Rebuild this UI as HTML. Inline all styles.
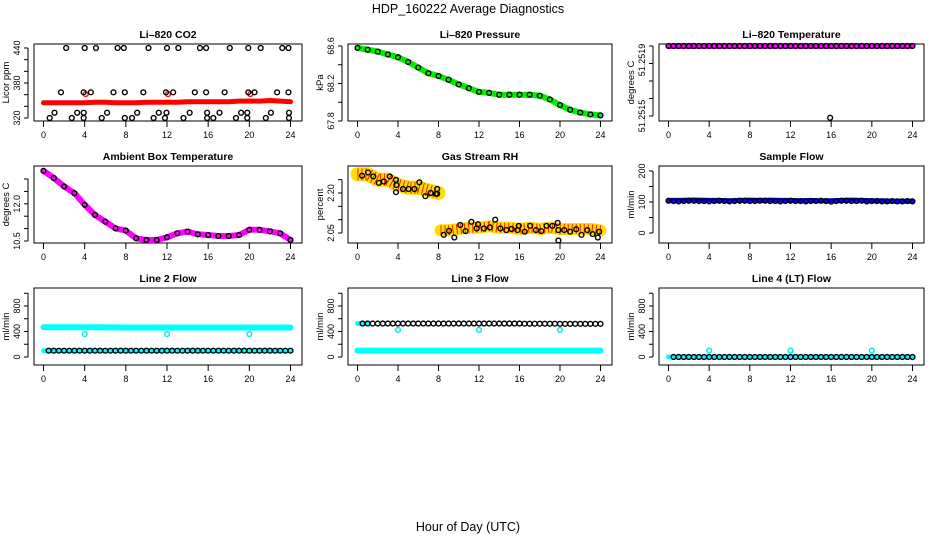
<!DOCTYPE html>
<html><head><meta charset="utf-8"><style>
html,body{margin:0;padding:0;background:#fff}
svg{display:block;font-family:"Liberation Sans",sans-serif}
</style></head><body>
<svg id="c" width="936" height="540" viewBox="0 0 936 540">
<text x="468" y="13" text-anchor="middle" font-size="12.5">HDP_160222  Average Diagnostics</text>
<text x="468" y="531" text-anchor="middle" font-size="12.5">Hour of Day (UTC)</text>
</svg>
<script>
const hrs=[0,1,2,3,4,5,6,7,8,9,10,11,12,13,14,15,16,17,18,19,20,21,22,23,24];
const halfHrs=[0,0.5,1,1.5,2,2.5,3,3.5,4,4.5,5,5.5,6,6.5,7,7.5,8,8.5,9,9.5,10,10.5,11,11.5,12,12.5,13,13.5,14,14.5,15,15.5,16,16.5,17,17.5,18,18.5,19,19.5,20,20.5,21,21.5,22,22.5,23,23.5,24];
const xTicks=[0,4,8,12,16,20,24];
// CO2
const co2Band=[346,346,346,346,346,347,347,346,346,346,347,347,347,347,348,348,348,348,348,349,349,349,350,349,348];
const co2Hours=[2.2,4.0,5.1,7.2,7.8,10.2,12.0,13.1,15.2,15.8,18.1,19.9,21.1,23.2,23.8,1.7,3.9,4.6,6.8,7.9,9.7,11.9,12.6,14.7,15.8,17.6,19.9,20.5,22.7,23.8,1.07,3.27,3.91,6.18,9.1,11.2,11.95,14.2,15.9,17.1,19.2,19.8,22.1,23.85,0.6,2.75,3.9,5.66,7.9,8.6,10.7,11.8,13.6,15.9,16.5,18.7,19.8,21.6,23.85];
const co2Vals=[440,440,440,440,440,440,440,440,440,440,440,440,440,440,440,364,364,364,364,364,364,364,364,364,364,364,364,364,364,364,329,329,329,329,329,329,329,329,329,329,329,329,329,329,320,320,320,320,320,320,320,320,320,320,320,320,320,320,320];
const co2OutHours=[4.1,12.1,20.1];
const co2OutVals=[361,361,361];
// Pressure
const presBand=[68.58,68.56,68.54,68.51,68.48,68.43,68.37,68.31,68.28,68.24,68.19,68.15,68.11,68.10,68.08,68.08,68.08,68.08,68.07,68.03,67.97,67.92,67.89,67.87,67.86];
// Temperature
const tempBand=[51.2519,51.2519,51.2519,51.2519,51.2519,51.2519,51.2519,51.2519,51.2519,51.2519,51.2519,51.2519,51.2519,51.2519,51.2519,51.2519,51.2519,51.2519,51.2519,51.2519,51.2519,51.2519,51.2519,51.2519,51.2519];
const tempOutHours=[15.9];
const tempOutVals=[51.25149];
// Ambient
const ambBand=[13.33,13.04,12.7,12.43,11.96,11.55,11.28,11.01,10.92,10.61,10.54,10.54,10.65,10.81,10.88,10.77,10.74,10.7,10.7,10.74,10.95,10.95,10.89,10.81,10.54];
// RH
const rhHours1=[0,1,2,3,4,5,6,7,8];
const rhBand1=[2.27,2.27,2.25,2.25,2.23,2.22,2.22,2.21,2.2];
const rhHours2=[8.2,9,10,11,12,13,14,15,16,17,18,19,20,21,22,23,24];
const rhBand2=[2.06,2.06,2.065,2.07,2.07,2.075,2.07,2.07,2.065,2.07,2.065,2.07,2.065,2.065,2.065,2.065,2.06];
const rhHours=[0.45,1.04,1.56,2.11,2.6,3.19,3.8,3.84,3.8,4.49,5.04,5.63,6.11,6.7,7.22,7.74,7.87,7.87,8.52,9.04,9.56,10.15,10.67,11.25,11.77,11.9,12.49,13.07,13.6,14.11,14.7,15.22,15.8,15.93,16.52,17.04,17.63,18.15,18.67,19.25,19.77,19.84,19.84,20.42,21,21.6,22.12,22.7,23.22,23.74,23.87];
const rhVals=[2.265,2.277,2.262,2.238,2.243,2.262,2.249,2.23,2.203,2.215,2.215,2.215,2.24,2.188,2.2,2.197,2.215,2.197,2.043,2.058,2.033,2.08,2.057,2.092,2.067,2.083,2.067,2.071,2.1,2.067,2.061,2.065,2.061,2.077,2.055,2.077,2.061,2.057,2.077,2.077,2.088,2.061,2.022,2.061,2.055,2.064,2.043,2.061,2.046,2.033,2.055];
// Sample flow
const sampBand=[105,105,106,106,105,105,104,105,106,105,106,105,105,104,105,104,104,105,106,105,104,104,103,103,103];
const sampVals=[104,103,102,103,104,104,103,103,102,103,104,103,102,103,104,104,103,103,104,104,103,103,102,103,104,103,103,102,103,103,104,103,101,103,104,104,103,103,104,102,103,103,102,102,103,102,102,103,102];
// Line 2
const l2Upper=[466,466,466,467,467,466,465,465,462,462,462,462,462,462,462,463,462,462,462,462,462,462,462,462,462];
const l2Lower=[99,99,99,99,99,99,99,99,99,99,99,99,99,99,99,99,99,99,99,99,99,99,99,99,99];
const l2Vals=[99,99,99,99,99,99,99,99,99,99,99,99,99,99,99,99,99,99,99,99,99,99,99,99,99,99,99,99,99,99,99,99,99,99,99,99,99,99,99,99,99,99,99,99,99,99,99,99,99];
const l2OutHours=[4,12,20];
const l2OutVals=[360,360,360];
// Line 3
const l3Lower=[100,100,100,100,100,100,100,100,100,100,100,100,100,100,100,100,100,100,100,100,100,100,100,100,100];
const l3Vals=[525,525,525,525,525,525,525,525,525,525,525,525,525,525,525,525,525,525,525,525,525,525,525,525,525,525,525,525,525,525,525,525,525,522,522,522,522,522,522,522,520,520,520,520,520,520,520,520,520];
const l3OutHours=[4,12,20];
const l3OutVals=[425,425,425];
// Line 4
const l4Band=[0,0,0,0,0,0,0,0,0,0,0,0,0,0,0,0,0,0,0,0,0,0,0,0,0];
const l4Vals=[0,0,0,0,0,0,0,0,0,0,0,0,0,0,0,0,0,0,0,0,0,0,0,0,0,0,0,0,0,0,0,0,0,0,0,0,0,0,0,0,0,0,0,0,0,0,0,0,0];
const l4OutHours=[4,12,20];
const l4OutVals=[100,100,100];

const NS="http://www.w3.org/2000/svg";
const svg=document.getElementById('c');
function mk(tag,attrs,parent){const e=document.createElementNS(NS,tag);for(const k in attrs)e.setAttribute(k,attrs[k]);(parent||svg).appendChild(e);return e;}
const cols=[[34,302],[348,612],[659,924]];
const rows=[[44,121],[166,243],[288,365]];

function panel(ci,ri,title,ylab,v0,p0,v1,p1,yticks,ylabels){
  const [L,R]=cols[ci],[T,B]=rows[ri];
  const g=mk('g',{});
  
  
  const X=h=>L+9.5+(h/24)*(R-11.5-L-9.5);
  const Y=v=>p0+(v-v0)*(p1-p0)/(v1-v0);
  const box=mk('rect',{x:L,y:T,width:R-L,height:B-T,fill:'none',stroke:'#000','stroke-width':1},g);
  
  
  const t=mk('text',{x:(L+R)/2,y:T-6,'text-anchor':'middle','font-size':10.5,'font-weight':'bold'},g);
  t.textContent=title;
  
  
  xTicks.forEach(h=>{
    const tk=mk('line',{x1:X(h),x2:X(h),y1:B,y2:B+6,stroke:'#000'},g);
    
    
    const tl=mk('text',{x:X(h),y:B+17,'text-anchor':'middle','font-size':9},g);
    tl.textContent=h;
    
    
  });
  const ya=mk('line',{x1:L-6,x2:L-6,y1:Y(yticks[0]),y2:Y(yticks[yticks.length-1]),stroke:'#000'},g);
  
  
  yticks.forEach(v=>{
    const tk=mk('line',{x1:L-10,x2:L-6,y1:Y(v),y2:Y(v),stroke:'#000'},g);
    
    
  });
  ylabels.forEach(([v,s])=>{
    const y=Y(v),x=L-14;
    const tl=mk('text',{x:x,y:y,'text-anchor':'middle','font-size':9,transform:`rotate(-90 ${x} ${y})`},g);
    tl.textContent=s;
    
    
  });
  const yl=mk('text',{x:L-25,y:(T+B)/2,'text-anchor':'middle','font-size':9.5,transform:`rotate(-90 ${L-25} ${(T+B)/2})`},g);
  yl.textContent=ylab;
  
  
  return {g,X,Y};
}
function band(p,xs,vs,color,w,name,cap){
  const pts=xs.map((h,i)=>p.X(h).toFixed(1)+','+p.Y(vs[i]).toFixed(1)).join(' ');
  const e=mk('polyline',{points:pts,fill:'none',stroke:color,'stroke-width':w,'stroke-linecap':cap||'round','stroke-linejoin':'round'},p.g);
  
  
  return e;
}
function pts(p,xs,vs,color,name,r){
  xs.forEach((h,i)=>{
    const c=mk('circle',{cx:p.X(h),cy:p.Y(vs[i]),r:r||2.4,fill:'none',stroke:color,'stroke-width':1.4},p.g);
    
    
  });
}

// CO2
let p=panel(0,0,'Li\u2013820 CO2','Licor ppm',320,118,440,48,[320,340,360,380,400,420,440],[[320,'320'],[380,'380'],[440,'440']]);
band(p,hrs,co2Band,'#ff0000',5,'co2-series-band');
pts(p,co2OutHours,co2OutVals,'#ff0000','co2-red-point');
pts(p,co2Hours,co2Vals,'#000','co2-point');
// Pressure
p=panel(1,0,'Li\u2013820 Pressure','kPa',67.8,121,68.6,46,[67.8,68.0,68.2,68.4,68.6],[[67.8,'67.8'],[68.2,'68.2'],[68.6,'68.6']]);
band(p,hrs,presBand,'#00ee00',6,'pressure-band');
pts(p,hrs,presBand,'#000','pressure-point');
// Temperature
p=panel(2,0,'Li\u2013820 Temperature','degrees C',51.2515,116,51.2519,46,[51.2515,51.2516,51.2517,51.2518,51.2519],[[51.2515,'51.2515'],[51.25182,'51.2519']]);
band(p,hrs,tempBand,'#ff00ff',6,'temperature-band');
pts(p,halfHrs,tempBand.concat(tempBand.slice(1)),'#000','temperature-point');
pts(p,tempOutHours,tempOutVals,'#000','temperature-outlier');
// Ambient
p=panel(0,1,'Ambient Box Temperature','degrees C',10.5,241,13.0,179,[10.5,11.0,11.5,12.0,12.5,13.0],[[10.5,'10.5'],[12.0,'12.0']]);
band(p,hrs,ambBand,'#ff00ff',6,'ambient-band');
pts(p,hrs,ambBand,'#000','ambient-point');
// RH
p=panel(1,1,'Gas Stream RH','percent',2.05,233,2.20,193,[2.05,2.10,2.15,2.20,2.25],[[2.05,'2.05'],[2.20,'2.20']]);
band(p,rhHours1,rhBand1,'#ffdd00',14,'rh-band-morning');
band(p,rhHours1,rhBand1,'#ee2200',12,'rh-speckle-morning','butt').setAttribute('stroke-dasharray','1 3');
band(p,rhHours2,rhBand2,'#ffdd00',12,'rh-band-afternoon');
band(p,rhHours2,rhBand2,'#ee2200',10,'rh-speckle-afternoon','butt').setAttribute('stroke-dasharray','1 3');
pts(p,rhHours,rhVals,'#000','rh-point');
// Sample
p=panel(2,1,'Sample Flow','ml/min',0,233,200,171,[0,50,100,150,200],[[0,'0'],[100,'100'],[200,'200']]);
band(p,hrs,sampBand,'#0000ff',5,'sample-band');
pts(p,halfHrs,sampVals,'#000','sample-point');
// Line 2
p=panel(0,2,'Line 2 Flow','ml/min',0,357,800,306,[0,200,400,600,800,1000],[[0,'0'],[400,'400'],[800,'800']]);
band(p,hrs,l2Upper,'#00ffff',6,'line2-upper-band');
band(p,hrs,l2Lower,'#00ffff',5,'line2-lower-band');
pts(p,halfHrs.slice(1),l2Vals.slice(1),'#000','line2-point');
pts(p,l2OutHours,l2OutVals,'#00e5ee','line2-outlier');
// Line 3
p=panel(1,2,'Line 3 Flow','ml/min',0,357,800,306,[0,200,400,600,800,1000],[[0,'0'],[400,'400'],[800,'800']]);
band(p,hrs,l3Lower,'#00ffff',6,'line3-lower-band');
band(p,[0,1],[525,525],'#00ffff',5,'line3-upper-band');
pts(p,halfHrs.slice(1),l3Vals.slice(1),'#000','line3-point');
pts(p,l3OutHours,l3OutVals,'#00e5ee','line3-outlier');
// Line 4
p=panel(2,2,'Line 4 (LT) Flow','ml/min',0,357,800,306,[0,200,400,600,800,1000],[[0,'0'],[400,'400'],[800,'800']]);
band(p,hrs,l4Band,'#00ffff',5,'line4-band');
pts(p,halfHrs.slice(1),l4Vals.slice(1),'#000','line4-point');
pts(p,l4OutHours,l4OutVals,'#00e5ee','line4-outlier');
</script>
</body></html>
